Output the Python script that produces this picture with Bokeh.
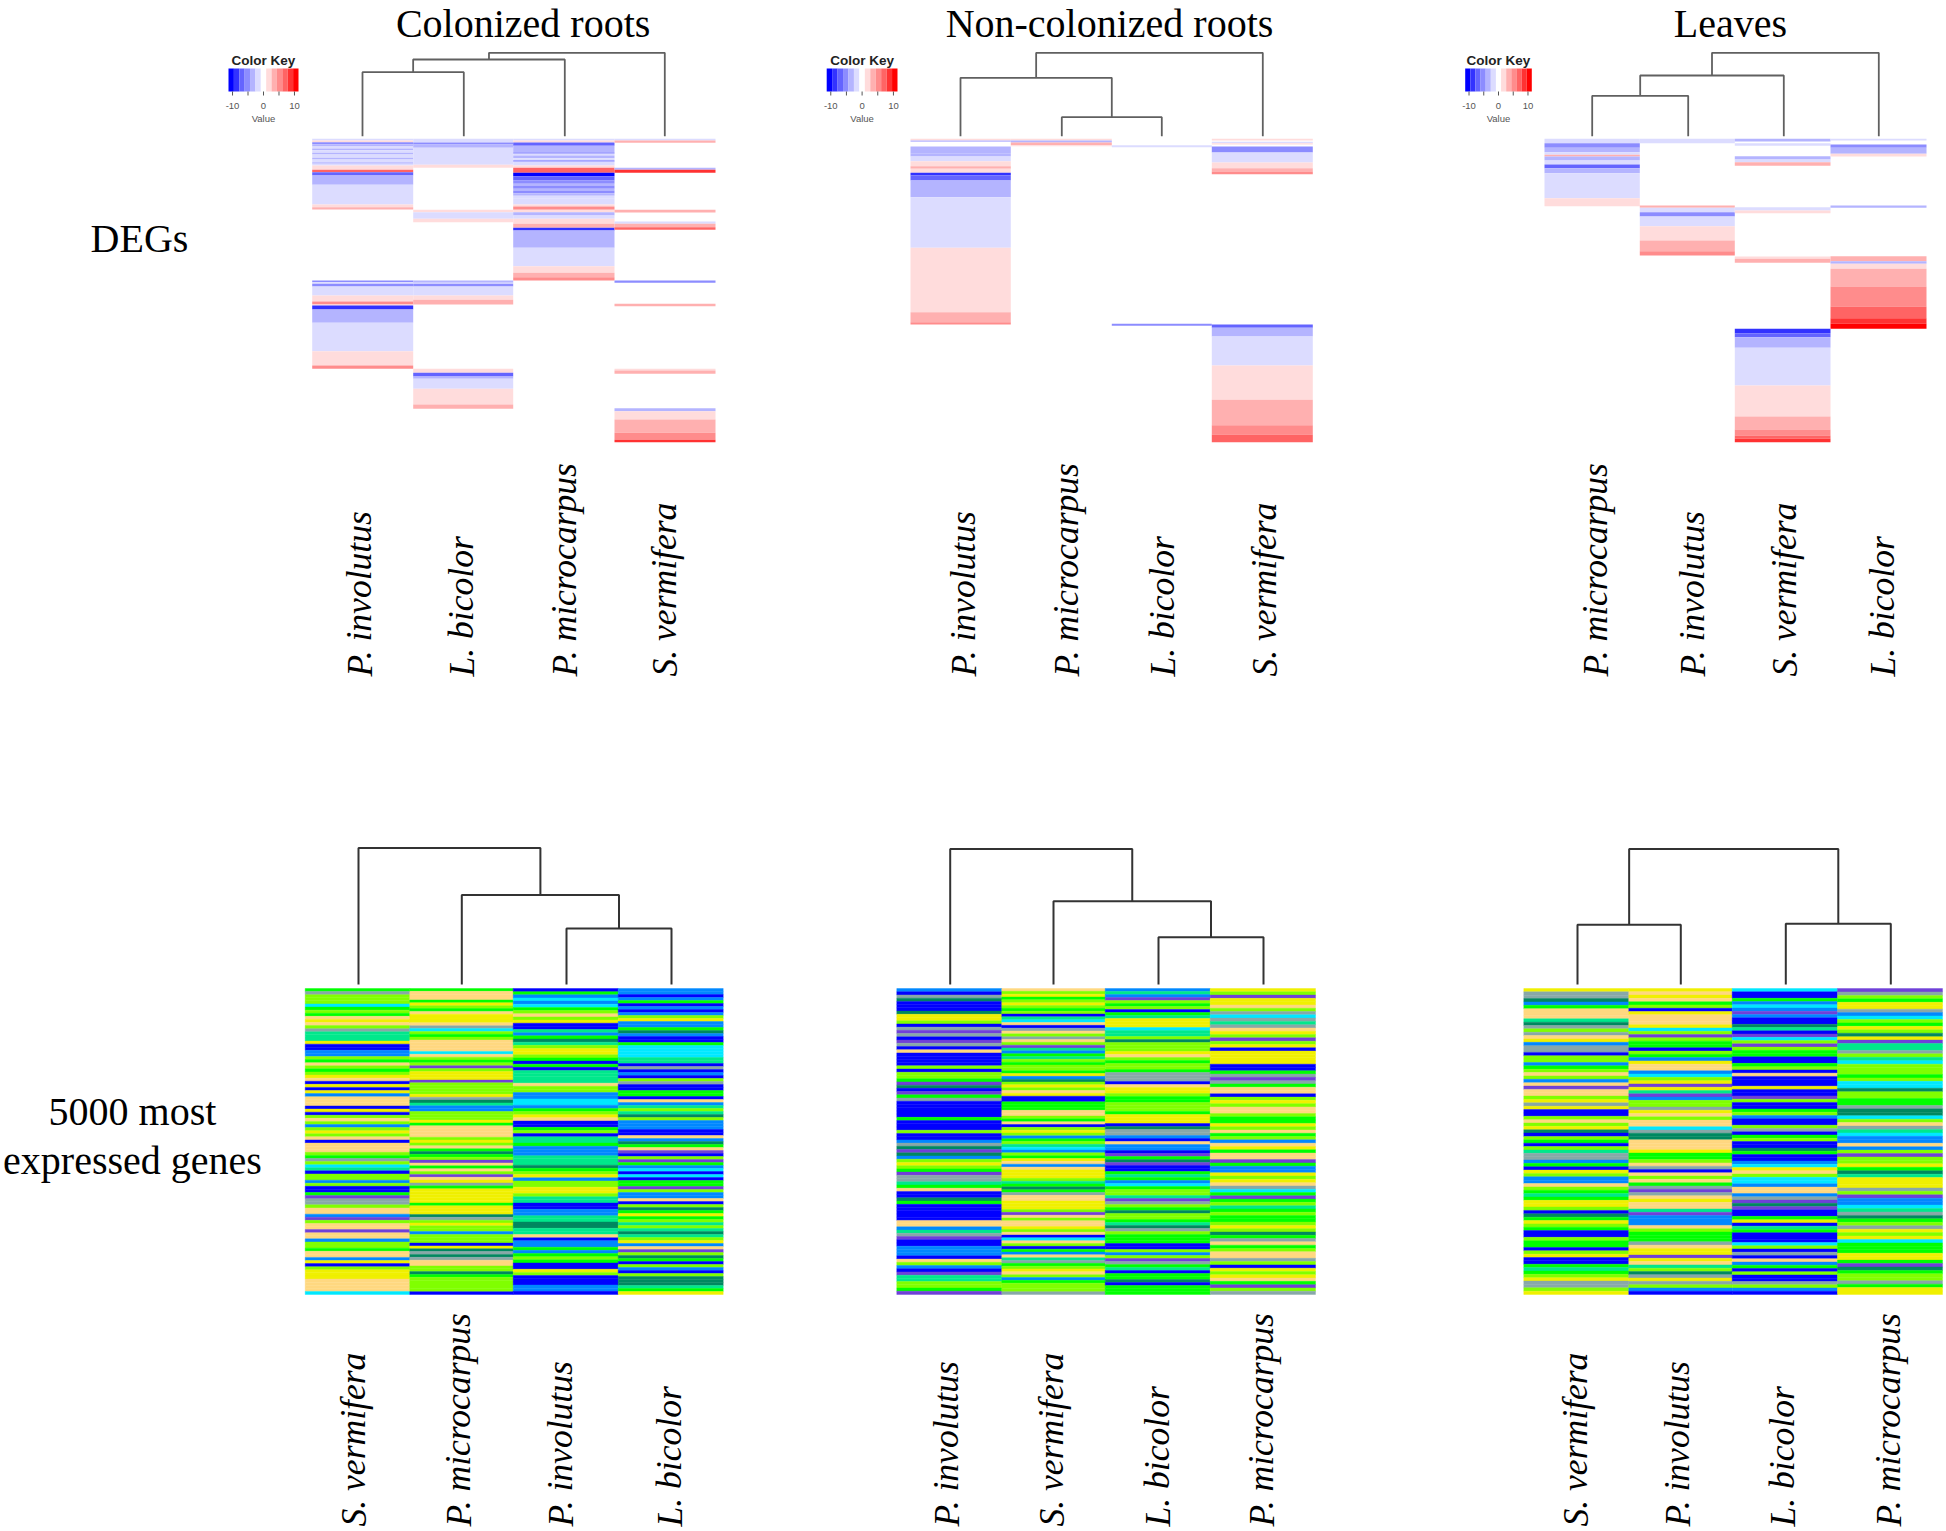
from bokeh.plotting import figure
from bokeh.models import Range1d, LinearColorMapper, ColumnDataSource
from bokeh.core.properties import value
from bokeh.embed import file_html
from bokeh.resources import INLINE

# ---------- data ----------
titles = ["Colonized roots", "Non-colonized roots", "Leaves"]
row_titles = ["DEGs", "5000 most", "expressed genes"]
deg_labels = [["P. involutus", "L. bicolor", "P. microcarpus", "S. vermifera"],
              ["P. involutus", "P. microcarpus", "L. bicolor", "S. vermifera"],
              ["P. microcarpus", "P. involutus", "S. vermifera", "L. bicolor"]]
top_labels = [["S. vermifera", "P. microcarpus", "P. involutus", "L. bicolor"],
              ["P. involutus", "S. vermifera", "L. bicolor", "P. microcarpus"],
              ["S. vermifera", "P. involutus", "L. bicolor", "P. microcarpus"]]

# (gene count, log2 fold change) runs, top to bottom; 0 = not differential
deg1_col1 = [(5,-2),(5,2),(6,-5),(7,-4),(6,-2),(5,-4),(8,-2),(5,-4),(10,-2),(5,-4),(8,-2),(5,-4),(5,-2),(13,2),(7,7),(10,-7),(28,-4),(59,-2),(8,2),(7,4),
             (213,0),(5,-5),(5,-2),(8,-5),(27,-2),(18,2),(9,5),(3,2),(12,-9),(40,-4),(85,-2),(43,2),(10,5),(220,0)]
deg1_col2 = [(11,-2),(6,-5),(10,-4),(51,-2),(9,2),(126,0),(7,2),(20,-2),(10,2),(175,0),(7,-4),(3,-2),(8,-5),(27,-2),(13,2),(14,4),(193,0),(12,2),(11,-7),(7,-4),(30,-2),(47,2),(13,4),(100,0)]
deg1_col3 = [(5,-2),(6,2),(10,-7),(19,-4),(5,-5),(5,-2),(8,-4),(6,-2),(5,-5),(11,-2),(7,2),(15,7),(10,-10),(13,-7),(10,-5),(5,-4),(10,-5),(5,-4),(8,-5),(8,-4),(9,-2),(17,-2),(6,2),(10,5),(7,2),(10,-4),(10,-2),(15,2),(12,4),(8,-9),(52,-4),(55,-2),(20,2),(13,4),(10,5),(485,0)]
deg1_col4 = [(5,-2),(7,4),(75,0),(6,-4),(9,9),(111,0),(8,4),(27,0),(7,-2),(10,4),(8,7),(152,0),(7,-6),(63,0),(7,4),(188,0),(5,2),(10,4),(103,0),(9,-4),(25,2),(40,4),(21,5),(7,9)]
deg2_col1 = [(5,2),(4,-4),(14,0),(20,-4),(10,-4),(14,-2),(15,2),(8,4),(12,2),(8,-9),(15,-7),(50,-4),(152,-2),(193,2),(30,4),(7,5),(353,0)]
deg2_col2 = [(5,2),(6,-4),(8,4),(3,2),(888,0)]
deg2_col3 = [(19,0),(6,-2),(530,0),(6,-5),(349,0)]
deg2_col4 = [(5,2),(4,0),(4,-2),(4,2),(6,0),(18,-5),(30,-2),(17,2),(10,4),(8,5),(451,0),(10,-7),(26,-4),(87,-2),(103,2),(76,4),(28,5),(23,7)]
deg3_col1 = [(13,-2),(14,-5),(13,-4),(8,-2),(5,4),(12,-4),(12,-2),(11,-7),(15,-4),(75,-2),(24,2),(708,0)]
deg3_col2 = [(13,-2),(187,0),(7,4),(13,-2),(13,-5),(29,-2),(43,2),(32,4),(13,5),(560,0)]
deg3_col3 = [(8,-4),(5,0),(8,-2),(31,0),(10,-4),(8,-2),(11,4),(124,0),(10,-2),(8,2),(130,0),(7,2),(12,4),(198,0),(13,-9),(12,-7),(32,-4),(113,-2),(93,2),(39,4),(18,5),(10,7),(10,9)]
deg3_col4 = [(5,-2),(12,0),(10,-6),(18,-4),(8,2),(147,0),(7,-4),(145,0),(15,4),(8,-4),(15,2),(53,4),(60,5),(35,7),(17,9),(15,10),(340,0)]
deg_matrix = [[deg1_col1, deg1_col2, deg1_col3, deg1_col4],
              [deg2_col1, deg2_col2, deg2_col3, deg2_col4],
              [deg3_col1, deg3_col2, deg3_col3, deg3_col4]]

# one letter per expression-level row, top to bottom
expr_a = ["GSLLLCGLGOYOLSTTTYBBAALGOLGLYOBYBYAOOOBYBLOLALYLOBOOOLGSLCTBLLALBBGPSSLOOAPLOOPOOALLGOOAYBLYYYOOOOC",
          "GOOOGYLGOYYYOSCLGLOOOOCOLGLPLYYYPLLLLYSKTAALLLYGOOOOLYLOGKGLPOGOLPOYSGYYYYYGYYYKSLYLLALLLBYKSKSOOLLKGLLLLLB",
          "BGACACGLOLYBBTAGKTLYYLGBGBTTTTOLLAACCAGLYOBBGLBTTGAAATTTKGLYALLYYLTTBBAATTKKTTOBAAGAGLGBBYLBBBAAB",
          "AABAGBABALYAAGKABBGCCCCTTBSBABLSBBGGBOATLTKLAAABBOAKGOPBLPGACBCBGGPLAAOBLKGYGLTLTKTLYAOPLKGBLABLKKKTGY"]
expr_b = ["ABSKBBBKYYLBSPSBPSBOBBBBLBLLGPKBPGSBBBBBGBBBLBBASKPKALYLGPSSTGOBBKGBBBBBOOATSPBBAAABOLABPTTLLGP",
          "OLYGLYLGLBTCOBSOLSOLPTAGTLGLLGYAKLYLOYBBGGGOOLGOBLYLAGLTCALGYOAOYYYLTGKGSOOYYYLPOLOOYLOBCOLBGAOTSGLYOLAGLLLS",
          "ATAPLGLBGTYYYCTTLKLLLYOLGLLGSSSBOYYLGGLLLGYYYBKSSABOAABPGKPBBGTGACGLLTPSLGKLLGTKSLGGGBBLALPSGTBGGKBGGG",
          "YLPYYOLSCSTSOYLPLYBYYYYBBGSPSGOOBLYLOOLGGYLOGLAOYGOOPGAAYLYOSCGPGLTGLGGLYLKGSOGLOOSLBYLYOGPLS"]
expr_c = ["YSSKAGOOOTKSLSOYASSBLLAGLOLAOPOOLYSYBBLOLYKBLGBLTSSAGBYLAAOLGTGYYLBKGYLGBBLGGBLYBBGTGLYSSLY",
          "YOYOGLBYOOOYCLPLGGBLGAYOOACLYPYTPALLSYOLOOCSKKOOOYGGLOSBOLOGSPSOYOOTPAAAOLGGGSOYYPYOTLKSYSLAB",
          "CBBGACAPABBKTBPCLPLGGBBGLBOBBBYBBPLBBGLABBLSBGLBBKGBBACYOLCCAOOASPKPBBGYBTGBBBCLBSBOAGBLBBSLAB",
          "PSLGYYSACLGYLKYPTTSLTCLLLGLCCKLLGGSKKCLOSTCAAOALPLLYGKTYYYSLPAACTSKGLSYLYCGGGYYGPKGLLSGYY"]
expr_matrix = [expr_a, expr_b, expr_c]

# dendrograms: (left node, right node, merge height); nodes 0-3 are leaves, 4+ earlier merges
deg_merges = [[(0,1,64.0),(4,2,76.7),(5,3,83.4)],
              [(1,2,19.0),(0,4,58.4),(5,3,83.4)],
              [(0,1,40.4),(4,2,60.7),(5,3,83.4)]]
top_merges = [[(2,3,56.0),(1,4,89.5),(0,5,136.6)],
              [(2,3,47.3),(1,4,83.3),(0,5,135.4)],
              [(0,1,59.7),(2,3,60.7),(4,5,135.4)]]

key_ticks = [-10, -5, 0, 5, 10]
key_tick_labels = ["-10", "0", "10"]
key_labelled = [-10, 0, 10]
key_low, key_high = -11.3, 11.3
palette = ["#0000ff","#3232ff","#6464ff","#8c8cff","#b4b4ff","#dcdcff","#ffffff",
           "#ffdcdc","#ffb0b0","#ff8c8c","#ff6464","#ff3232","#ff0000"]
expr_colors = dict(B="#0000ff", A="#0088ff", C="#00e8ff", T="#00e88c", G="#00ff00", L="#80ff00",
                   Y="#f0f000", O="#ffd880", P="#7040d8", S="#88a8a8", K="#008860")

# ---------- layout ----------
W, H = 1946, 1531
deg_edges = [[311.7,412.7,512.7,614,715],[910,1010.3,1111.3,1211.3,1312.3],[1544,1639.3,1734.3,1830,1926]]
deg_leaf = [[362,463.3,564.3,664.3],[960,1061.3,1161.3,1262.3],[1591.7,1687.7,1783.3,1878.3]]
deg_label_x = [[359,461,564,664],[963,1066,1162,1264],[1595,1692,1784,1882]]
top_edges = [[304.7,409.3,512.7,617.7,722.7],[896.3,1001.3,1104.7,1209.7,1315],[1523.3,1628.3,1731.7,1837,1942]]
top_leaf = [[358,461.3,566,671],[949.7,1053,1158,1263],[1577,1680.3,1785.3,1890.3]]
top_label_x = [[353,458,560,669],[946,1051,1157,1261],[1575,1677,1782,1888]]
key_box = [(228,298),(826.2,897),(1464.7,1531.3)]

SERIF = value("Liberation Serif")
SANS = value("Liberation Sans")

p = figure(width=W, height=H, x_range=Range1d(0, W), y_range=Range1d(H, 0),
           toolbar_location=None, output_backend="svg", x_axis_type=None, y_axis_type=None,
           min_border=0, outline_line_color=None)
p.styles = {"position": "absolute", "left": "0px", "top": "0px"}

mapper = LinearColorMapper(palette=palette, low=key_low, high=key_high)

# DEG heatmaps
src = dict(l=[], r=[], t=[], b=[], v=[])
for panel, cols in enumerate(deg_matrix):
    e = deg_edges[panel]
    for c, runs in enumerate(cols):
        total = sum(n for n, _ in runs)
        pos = 0
        for n, v in runs:
            if v != 0:
                src["l"].append(e[c]); src["r"].append(e[c+1])
                src["t"].append(138.3 + 303.4*pos/total)
                src["b"].append(138.3 + 303.4*(pos+n)/total)
                src["v"].append(v)
            pos += n
p.quad(left="l", right="r", top="t", bottom="b", source=ColumnDataSource(src),
       fill_color={"field": "v", "transform": mapper}, line_color=None)

# expression heatmaps
src = dict(l=[], r=[], t=[], b=[], c=[])
for panel, cols in enumerate(expr_matrix):
    e = top_edges[panel]
    for c, s in enumerate(cols):
        for i, ch in enumerate(s):
            src["l"].append(e[c]); src["r"].append(e[c+1])
            src["t"].append(988 + 306*i/len(s))
            src["b"].append(988 + 306*(i+1)/len(s))
            src["c"].append(expr_colors[ch])
p.quad(left="l", right="r", top="t", bottom="b", source=ColumnDataSource(src),
       fill_color="c", line_color="c", line_width=0.4)

# dendrograms
def dendro(leaf_x, merges, base, color, lw):
    xs, ys = [], []
    nx = list(leaf_x); ny = [base]*4
    for a, b, h in merges:
        y = base - h
        xs.append([nx[a], nx[a], nx[b], nx[b]])
        ys.append([ny[a], y, y, ny[b]])
        nx.append((nx[a]+nx[b])/2); ny.append(y)
    p.multi_line(xs, ys, line_color=color, line_width=lw)

for i in range(3):
    dendro(deg_leaf[i], deg_merges[i], 135.7, "#606060", 1.8)
    dendro(top_leaf[i], top_merges[i], 984, "#333333", 2)

# colour keys
for (x0, x1) in key_box:
    n = len(palette)
    wd = (x1-x0)/n
    p.quad(left=[x0+i*wd for i in range(n)], right=[x0+(i+1)*wd for i in range(n)],
           top=[68]*n, bottom=[91]*n, fill_color=[palette[i] for i in range(n)], line_color=None)
    tx = [x0+(v-key_low)/(key_high-key_low)*(x1-x0) for v in key_ticks]
    p.segment(tx, [91]*5, tx, [95]*5, line_color="#555555", line_width=1)
    lx = [x0+(v-key_low)/(key_high-key_low)*(x1-x0) for v in key_labelled]
    p.text(lx, [105.5]*3, text=key_tick_labels, text_font=SANS, text_font_size="9.5px",
           text_color="#555555", text_align="center", text_baseline="middle")
    xc = (x0+x1)/2
    p.text([xc], [118], text=["Value"], text_font=SANS, text_font_size="9.5px",
           text_color="#555555", text_align="center", text_baseline="middle")
    p.text([xc], [60], text=["Color Key"], text_font=SANS, text_font_style="bold", text_font_size="13.5px",
           text_color="#222222", text_align="center", text_baseline="middle")

# titles
p.text([522.6, 1109, 1730], [0]*3, text=titles, text_font=SERIF, text_font_size="40px",
       text_color="#000000", text_align="center", text_baseline="top")
p.text([139, 132, 132], [238, 1111, 1160], text=row_titles, text_font=SERIF, text_font_size="40px",
       text_color="#000000", text_align="center", text_baseline="middle")

# rotated species labels
for i in range(3):
    p.text(deg_label_x[i], [676]*4, text=deg_labels[i], text_font=SERIF, text_font_style="italic",
           text_font_size="35.6px", text_color="#000000", angle=1.5708,
           text_align="left", text_baseline="middle")
    p.text(top_label_x[i], [1526]*4, text=top_labels[i], text_font=SERIF, text_font_style="italic",
           text_font_size="35.6px", text_color="#000000", angle=1.5708,
           text_align="left", text_baseline="middle")

open("out.html", "w").write(file_html(p, INLINE))
